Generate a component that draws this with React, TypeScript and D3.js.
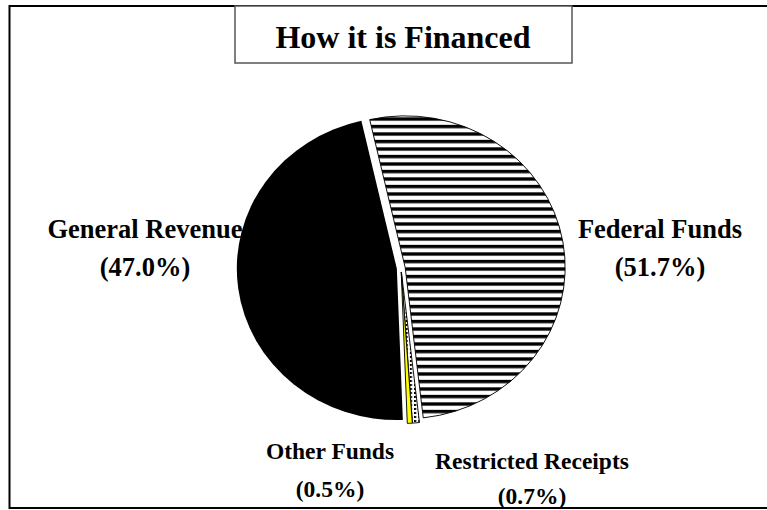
import React from 'react';
import * as d3 from 'd3';

// ---- data ----
const categories = ['Federal Funds', 'Restricted Receipts', 'Other Funds', 'General Revenue'];
const shares = [51.7, 0.7, 0.5, 47.0];
const shareLabels = ['(51.7%)', '(0.7%)', '(0.5%)', '(47.0%)'];
const title = 'How it is Financed';

// ---- layout ----
const W = 767;
const H = 510;
const cx = 401;
const cy = 268;
const rx = 160;
const ry = 151.5;
const explode = 4;
const startDeg = -12.8;
const labelPos = [
  { x: 660, y1: 238, y2: 276, size: 26.5 },
  { x: 532, y1: 469, y2: 504, size: 23.5 },
  { x: 330, y1: 459, y2: 497, size: 23.5 },
  { x: 145, y1: 238, y2: 276, size: 26.5 },
];
const fills = ['url(#hstripes)', 'url(#checker)', '#ffff00', '#000000'];
const strokes = ['#000', '#000', '#000', 'none'];

export default function App() {
  const start = (startDeg * Math.PI) / 180;
  const pie = d3
    .pie<number>()
    .sort(null)
    .value((d) => d)
    .startAngle(start)
    .endAngle(start + 2 * Math.PI);
  const arcs = pie(shares);
  const arcGen = d3.arc<d3.PieArcDatum<number>>().innerRadius(0).outerRadius(ry);
  const font = "'Liberation Serif', 'Times New Roman', serif";

  return (
    <svg
      width={W}
      height={H}
      style={{ position: 'absolute', left: 0, top: 0, background: '#fff' }}
    >
      <defs>
        <pattern id="hstripes" patternUnits="userSpaceOnUse" width={8} height={7.5}>
          <rect x={0} y={0} width={8} height={7.5} fill="#fff" />
          <rect x={0} y={0} width={8} height={3.4} fill="#000" />
        </pattern>
        <pattern id="checker" patternUnits="userSpaceOnUse" width={4} height={4}>
          <rect x={0} y={0} width={4} height={4} fill="#fff" />
          <rect x={0} y={0} width={2} height={2} fill="#000" />
        </pattern>
      </defs>
      {/* outer frame */}
      <rect x={9.5} y={6} width={W + 10} height={502} fill="#fff" stroke="#000" strokeWidth={2} />
      {/* title box */}
      <rect x={235} y={6} width={337} height={57} fill="#fff" stroke="#555" strokeWidth={1.5} />
      <text
        x={403}
        y={48}
        textAnchor="middle"
        fontFamily={font}
        fontWeight="bold"
        fontSize={32}
        fill="#000"
      >
        {title}
      </text>
      {/* pie */}
      <g transform={`translate(${cx},${cy}) scale(${rx / ry},1)`}>
        {arcs.map((a, i) => {
          const mid = (a.startAngle + a.endAngle) / 2;
          const ox = explode * Math.sin(mid);
          const oy = -explode * Math.cos(mid);
          return (
            <path
              key={categories[i]}
              d={arcGen(a) || ''}
              transform={`translate(${ox},${oy})`}
              fill={fills[i]}
              stroke={strokes[i]}
              strokeWidth={0.9}
            />
          );
        })}
      </g>
      {/* labels */}
      {categories.map((c, i) => (
        <g key={c} fontFamily={font} fontWeight="bold" fontSize={labelPos[i].size} fill="#000">
          <text x={labelPos[i].x} y={labelPos[i].y1} textAnchor="middle">
            {c}
          </text>
          <text x={labelPos[i].x} y={labelPos[i].y2} textAnchor="middle">
            {shareLabels[i]}
          </text>
        </g>
      ))}
    </svg>
  );
}
